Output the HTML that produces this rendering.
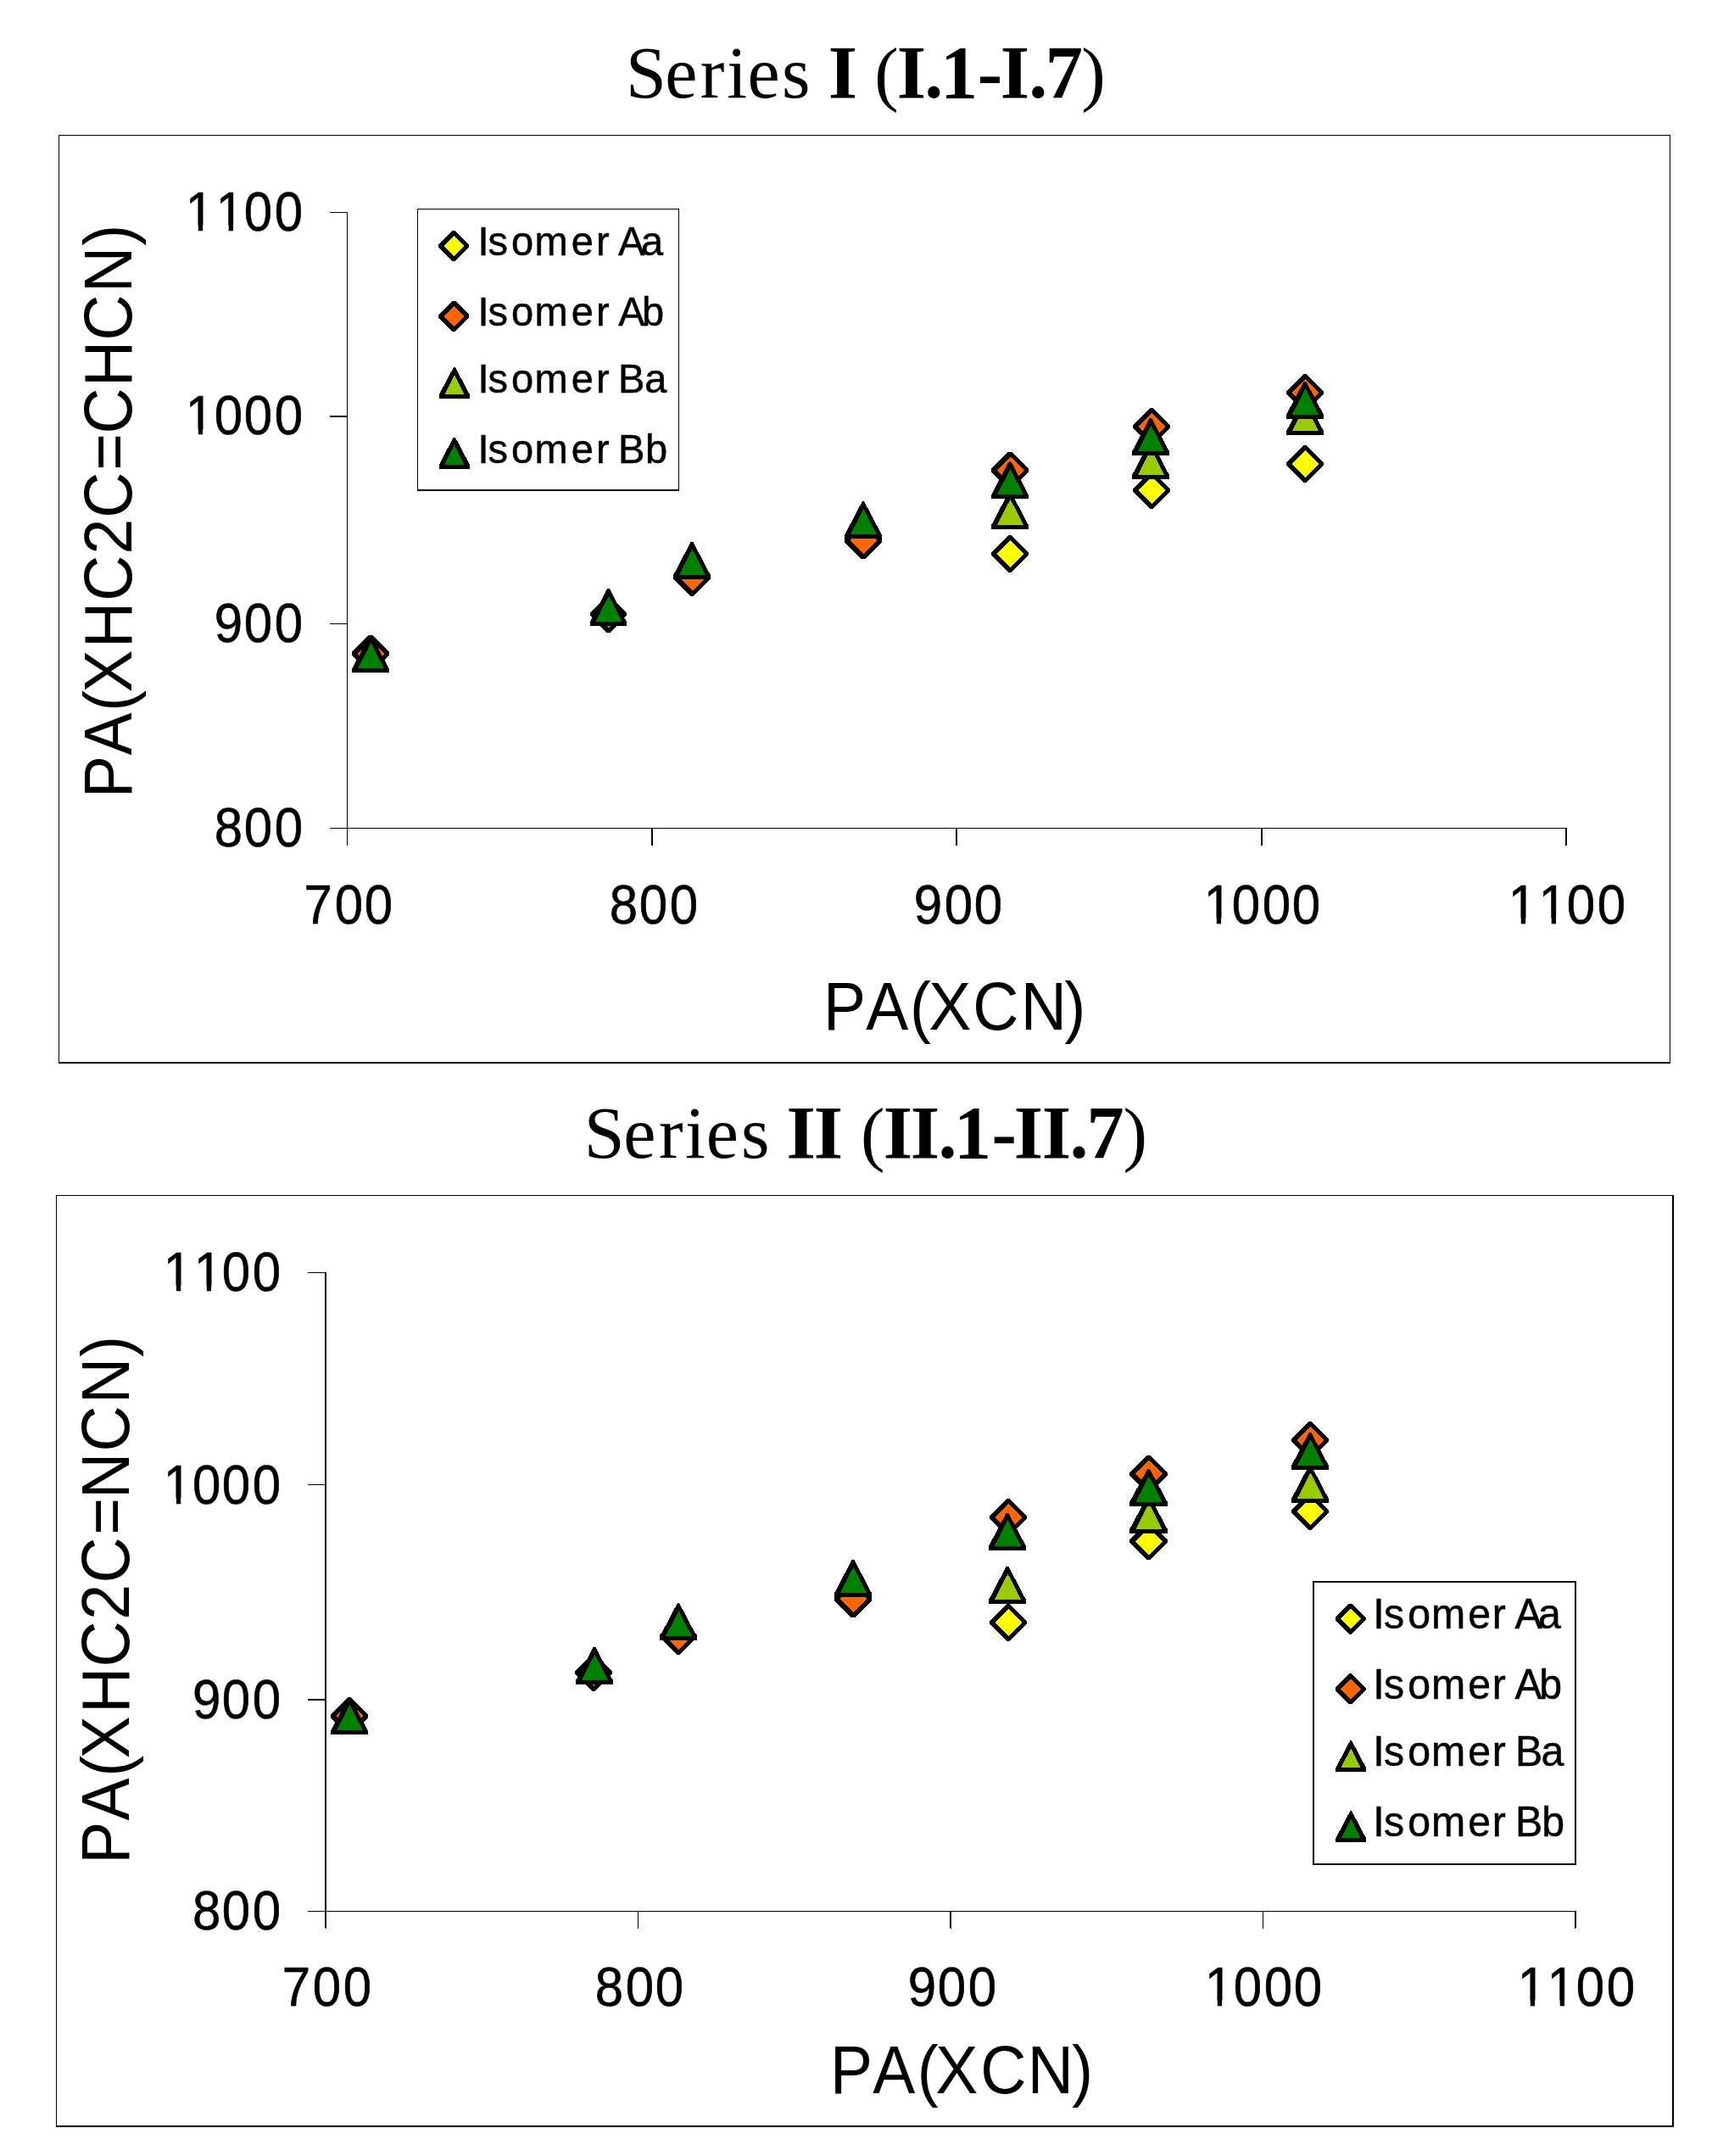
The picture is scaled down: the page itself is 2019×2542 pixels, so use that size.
<!DOCTYPE html>
<html lang="en"><head><meta charset="utf-8"><title>Series I and Series II proton affinities</title>
<style>
html,body{margin:0;padding:0;background:#fff;}
body{width:2019px;height:2542px;overflow:hidden;}
svg{display:block;}
.bx{fill:#000;shape-rendering:crispEdges;}
text{fill:#000;white-space:pre;}
.sa{font-family:"Liberation Sans",Arial,Helvetica,sans-serif;}
.se{font-family:"Liberation Serif","Times New Roman",Times,serif;}
.b{font-weight:bold;}
.mk{shape-rendering:crispEdges;}
</style></head><body>
<svg width="2019" height="2542" viewBox="0 0 2019 2542">
<rect x="0" y="0" width="2019" height="2542" fill="#fff"/>
<text class="se" font-size="88.3" transform="translate(0,115.0)" y="0"><tspan x="738.03 784.33 825.85 857.27 881.43 922.01" font-size="86.0">Series </tspan><tspan x="976.72" font-size="88.3" class="b">I </tspan><tspan x="1031.16" font-size="85.5">(</tspan><tspan x="1057.82 1090.36 1109.07 1152.65 1179.72 1213.16 1232.83" font-size="88.3" class="b">I.1-I.7</tspan><tspan x="1275.31" font-size="85.5">)</tspan></text>
<text class="se" font-size="88.3" transform="translate(0,1365.0)" y="0"><tspan x="688.63 735.33 776.90 808.02 832.83 874.06" font-size="86.0">Series </tspan><tspan x="927.57 959.72" font-size="88.3" class="b">II </tspan><tspan x="1015.01" font-size="85.5">(</tspan><tspan x="1041.67 1073.77 1106.51 1124.92 1169.60 1195.72 1228.77 1261.46 1281.38" font-size="88.3" class="b">II.1-II.7</tspan><tspan x="1324.51" font-size="85.5">)</tspan></text>
<rect class="bx" x="69" y="159" width="1901" height="1"/>
<rect class="bx" x="69" y="159" width="1" height="1095"/>
<rect class="bx" x="1969" y="159" width="1" height="1095"/>
<rect class="bx" x="69" y="1252" width="1901" height="2"/>
<rect class="bx" x="409" y="250" width="1" height="747"/>
<rect class="bx" x="389" y="976" width="1459" height="1"/>
<rect class="bx" x="389" y="250" width="21" height="1"/>
<rect class="bx" x="389" y="490" width="21" height="2"/>
<rect class="bx" x="389" y="735" width="21" height="1"/>
<rect class="bx" x="768" y="976" width="2" height="21"/>
<rect class="bx" x="1127" y="976" width="2" height="21"/>
<rect class="bx" x="1487" y="976" width="2" height="21"/>
<rect class="bx" x="1846" y="976" width="2" height="21"/>
<text class="sa" font-size="64.4" transform="translate(0,272.25) scale(0.932,1)" x="234.66 273.18 308.81 347.27" y="0" stroke="#000" stroke-width="0.6">1100</text>
<rect fill="#fff" x="220.76" y="265.74" width="13.03" height="8.01"/>
<rect fill="#fff" x="239.10" y="265.74" width="12.55" height="8.01"/>
<rect fill="#fff" x="256.66" y="265.74" width="13.03" height="8.01"/>
<rect fill="#fff" x="275.00" y="265.74" width="12.55" height="8.01"/>
<text class="sa" font-size="64.4" transform="translate(0,512.4) scale(0.932,1)" x="234.66 271.25 308.81 347.27" y="0" stroke="#000" stroke-width="0.6">1000</text>
<rect fill="#fff" x="220.76" y="505.89" width="13.03" height="8.01"/>
<rect fill="#fff" x="239.10" y="505.89" width="12.55" height="8.01"/>
<text class="sa" font-size="64.4" transform="translate(0,757.3) scale(0.932,1)" x="271.27 308.81 347.27" y="0" stroke="#000" stroke-width="0.6">900</text>
<text class="sa" font-size="64.4" transform="translate(0,998.1) scale(0.932,1)" x="271.25 308.81 347.27" y="0" stroke="#000" stroke-width="0.6">800</text>
<text class="sa" font-size="64.4" transform="translate(0,1089.1) scale(0.932,1)" x="384.80 423.51 461.01" y="0" stroke="#000" stroke-width="0.6">700</text>
<text class="sa" font-size="64.4" transform="translate(0,1089.1) scale(0.932,1)" x="771.25 808.70 847.27" y="0" stroke="#000" stroke-width="0.6">800</text>
<text class="sa" font-size="64.4" transform="translate(0,1089.1) scale(0.932,1)" x="1156.41 1194.97 1232.57" y="0" stroke="#000" stroke-width="0.6">900</text>
<text class="sa" font-size="64.4" transform="translate(0,1089.1) scale(0.932,1)" x="1523.29 1558.81 1597.33 1634.99" y="0" stroke="#000" stroke-width="0.6">1000</text>
<rect fill="#fff" x="1421.76" y="1082.59" width="13.03" height="8.01"/>
<rect fill="#fff" x="1440.10" y="1082.59" width="12.55" height="8.01"/>
<text class="sa" font-size="64.4" transform="translate(0,1089.1) scale(0.932,1)" x="1908.48 1947.00 1982.63 2021.25" y="0" stroke="#000" stroke-width="0.6">1100</text>
<rect fill="#fff" x="1780.76" y="1082.59" width="13.03" height="8.01"/>
<rect fill="#fff" x="1799.10" y="1082.59" width="12.55" height="8.01"/>
<rect fill="#fff" x="1816.66" y="1082.59" width="13.03" height="8.01"/>
<rect fill="#fff" x="1835.00" y="1082.59" width="12.55" height="8.01"/>
<text class="sa" font-size="79.0" transform="translate(0,1213.8) scale(0.95,1)" x="1022.08 1074.97 1129.47 1153.02 1207.71 1267.03 1321.22" y="0">PA(XCN)</text>
<text class="sa" font-size="79.0" transform="translate(155.0,0) rotate(-90) scale(0.95,1)" x="-990.66 -937.35 -883.00 -859.56 -804.28 -745.97 -687.97 -642.82 -583.94 -538.50 -480.07 -422.55 -363.23 -305.09" y="0">PA(XHC2C=CHCN)</text>
<polygon class="mk" fill="#000" points="1189.25,630.80 1192.75,630.80 1213.00,651.05 1213.00,654.55 1192.75,674.80 1189.25,674.80 1169.00,654.55 1169.00,651.05"/>
<polygon class="mk" fill="#ffff00" points="1191.50,636.80 1207.50,652.80 1191.50,668.80 1175.50,652.80"/>
<polygon class="mk" fill="#000" points="1356.25,556.10 1359.75,556.10 1380.00,576.35 1380.00,579.85 1359.75,600.10 1356.25,600.10 1336.00,579.85 1336.00,576.35"/>
<polygon class="mk" fill="#ffff00" points="1358.50,562.10 1374.50,578.10 1358.50,594.10 1342.50,578.10"/>
<polygon class="mk" fill="#000" points="1537.25,524.90 1540.75,524.90 1561.00,545.15 1561.00,548.65 1540.75,568.90 1537.25,568.90 1517.00,548.65 1517.00,545.15"/>
<polygon class="mk" fill="#ffff00" points="1539.50,530.90 1555.50,546.90 1539.50,562.90 1523.50,546.90"/>
<polygon class="mk" fill="#000" points="435.25,748.70 438.75,748.70 459.00,768.95 459.00,772.45 438.75,792.70 435.25,792.70 415.00,772.45 415.00,768.95"/>
<polygon class="mk" fill="#ff6600" points="437.50,754.70 453.50,770.70 437.50,786.70 421.50,770.70"/>
<polygon class="mk" fill="#000" points="715.75,702.20 719.25,702.20 739.00,722.45 739.00,725.95 719.25,746.20 715.75,746.20 696.00,725.95 696.00,722.45"/>
<polygon class="mk" fill="#ff6600" points="718.00,708.20 734.00,724.20 718.00,740.20 702.00,724.20"/>
<polygon class="mk" fill="#000" points="814.25,658.50 817.75,658.50 838.00,678.75 838.00,682.25 817.75,702.50 814.25,702.50 794.00,682.25 794.00,678.75"/>
<polygon class="mk" fill="#ff6600" points="816.50,664.50 832.50,680.50 816.50,696.50 800.50,680.50"/>
<polygon class="mk" fill="#000" points="1016.25,615.30 1019.75,615.30 1040.00,635.55 1040.00,639.05 1019.75,659.30 1016.25,659.30 996.00,639.05 996.00,635.55"/>
<polygon class="mk" fill="#ff6600" points="1018.50,621.30 1034.50,637.30 1018.50,653.30 1002.50,637.30"/>
<polygon class="mk" fill="#000" points="1189.25,532.50 1192.75,532.50 1213.00,552.75 1213.00,556.25 1192.75,576.50 1189.25,576.50 1169.00,556.25 1169.00,552.75"/>
<polygon class="mk" fill="#ff6600" points="1191.50,538.50 1207.50,554.50 1191.50,570.50 1175.50,554.50"/>
<polygon class="mk" fill="#000" points="1356.25,480.80 1359.75,480.80 1380.00,501.05 1380.00,504.55 1359.75,524.80 1356.25,524.80 1336.00,504.55 1336.00,501.05"/>
<polygon class="mk" fill="#ff6600" points="1358.50,486.80 1374.50,502.80 1358.50,518.80 1342.50,502.80"/>
<polygon class="mk" fill="#000" points="1537.25,441.00 1540.75,441.00 1561.00,461.25 1561.00,464.75 1540.75,485.00 1537.25,485.00 1517.00,464.75 1517.00,461.25"/>
<polygon class="mk" fill="#ff6600" points="1539.50,447.00 1555.50,463.00 1539.50,479.00 1523.50,463.00"/>
<polygon class="mk" fill="#000" points="1189.70,579.90 1192.30,579.90 1213.00,619.40 1213.00,623.90 1169.00,623.90 1169.00,619.40"/>
<polygon class="mk" fill="#99cc00" points="1191.50,588.70 1207.10,618.90 1175.90,618.90"/>
<polygon class="mk" fill="#000" points="1355.70,520.80 1358.30,520.80 1379.00,560.30 1379.00,564.80 1335.00,564.80 1335.00,560.30"/>
<polygon class="mk" fill="#99cc00" points="1357.50,529.60 1373.10,559.80 1341.90,559.80"/>
<polygon class="mk" fill="#000" points="1537.70,468.80 1540.30,468.80 1561.00,508.30 1561.00,512.80 1517.00,512.80 1517.00,508.30"/>
<polygon class="mk" fill="#99cc00" points="1539.50,477.60 1555.10,507.80 1523.90,507.80"/>
<polygon class="mk" fill="#000" points="435.70,749.40 438.30,749.40 459.00,788.90 459.00,793.40 415.00,793.40 415.00,788.90"/>
<polygon class="mk" fill="#008000" points="437.50,758.20 453.10,788.40 421.90,788.40"/>
<polygon class="mk" fill="#000" points="716.20,693.90 718.80,693.90 739.00,733.40 739.00,737.90 696.00,737.90 696.00,733.40"/>
<polygon class="mk" fill="#008000" points="718.00,702.70 733.60,732.90 702.40,732.90"/>
<polygon class="mk" fill="#000" points="814.70,638.80 817.30,638.80 838.00,678.30 838.00,682.80 794.00,682.80 794.00,678.30"/>
<polygon class="mk" fill="#008000" points="816.50,647.60 832.10,677.80 800.90,677.80"/>
<polygon class="mk" fill="#000" points="1016.70,591.40 1019.30,591.40 1040.00,630.90 1040.00,635.40 996.00,635.40 996.00,630.90"/>
<polygon class="mk" fill="#008000" points="1018.50,600.20 1034.10,630.40 1002.90,630.40"/>
<polygon class="mk" fill="#000" points="1189.70,544.20 1192.30,544.20 1213.00,583.70 1213.00,588.20 1169.00,588.20 1169.00,583.70"/>
<polygon class="mk" fill="#008000" points="1191.50,553.00 1207.10,583.20 1175.90,583.20"/>
<polygon class="mk" fill="#000" points="1355.70,492.90 1358.30,492.90 1379.00,532.40 1379.00,536.90 1335.00,536.90 1335.00,532.40"/>
<polygon class="mk" fill="#008000" points="1357.50,501.70 1373.10,531.90 1341.90,531.90"/>
<polygon class="mk" fill="#000" points="1537.70,449.60 1540.30,449.60 1561.00,489.10 1561.00,493.60 1517.00,493.60 1517.00,489.10"/>
<polygon class="mk" fill="#008000" points="1539.50,458.40 1555.10,488.60 1523.90,488.60"/>
<rect class="bx" x="492" y="246" width="309" height="1"/>
<rect class="bx" x="492" y="246" width="1" height="333"/>
<rect class="bx" x="800" y="246" width="1" height="333"/>
<rect class="bx" x="492" y="577" width="309" height="2"/>
<polygon class="mk" fill="#000" points="533.45,272.00 536.95,272.00 553.20,288.25 553.20,291.75 536.95,308.00 533.45,308.00 517.20,291.75 517.20,288.25"/>
<polygon class="mk" fill="#ffff00" points="535.70,278.00 547.70,290.00 535.70,302.00 523.70,290.00"/>
<text class="sa" font-size="49.0" transform="translate(0,300.6) scale(0.96,1)" x="587.10 599.57 628.15 656.71 701.94 732.24 748.55 759.39 787.57" y="0" stroke="#000" stroke-width="0.5">Isomer Aa</text>
<polygon class="mk" fill="#000" points="533.45,354.90 536.95,354.90 553.20,371.15 553.20,374.65 536.95,390.90 533.45,390.90 517.20,374.65 517.20,371.15"/>
<polygon class="mk" fill="#ff6600" points="535.70,360.90 547.70,372.90 535.70,384.90 523.70,372.90"/>
<text class="sa" font-size="49.0" transform="translate(0,384.0) scale(0.96,1)" x="587.10 599.57 628.15 656.71 701.94 732.24 748.55 759.54 788.64" y="0" stroke="#000" stroke-width="0.5">Isomer Ab</text>
<polygon class="mk" fill="#000" points="534.90,433.00 536.90,433.00 553.90,465.20 553.90,470.00 517.90,470.00 517.90,465.20"/>
<polygon class="mk" fill="#99cc00" points="535.90,441.90 547.50,465.00 524.30,465.00"/>
<text class="sa" font-size="49.0" transform="translate(0,462.9) scale(0.96,1)" x="587.10 599.57 628.15 656.71 701.94 732.24 748.55 759.40 791.84" y="0" stroke="#000" stroke-width="0.5">Isomer Ba</text>
<polygon class="mk" fill="#000" points="534.90,515.50 536.90,515.50 553.90,547.70 553.90,552.50 517.90,552.50 517.90,547.70"/>
<polygon class="mk" fill="#008000" points="535.90,524.40 547.50,547.50 524.30,547.50"/>
<text class="sa" font-size="49.0" transform="translate(0,546.0) scale(0.96,1)" x="587.10 599.57 628.15 656.71 701.94 732.24 748.55 759.40 792.70" y="0" stroke="#000" stroke-width="0.5">Isomer Bb</text>
<rect class="bx" x="66" y="1409" width="1908" height="1"/>
<rect class="bx" x="66" y="1409" width="1" height="1099"/>
<rect class="bx" x="1972" y="1409" width="2" height="1099"/>
<rect class="bx" x="66" y="2506" width="1908" height="2"/>
<rect class="bx" x="383" y="1500" width="2" height="773"/>
<rect class="bx" x="384" y="2273" width="1" height="1"/>
<rect class="bx" x="363" y="2253" width="1496" height="1"/>
<rect class="bx" x="363" y="1500" width="22" height="1"/>
<rect class="bx" x="363" y="1750" width="22" height="1"/>
<rect class="bx" x="363" y="2003" width="22" height="2"/>
<rect class="bx" x="752" y="2253" width="1" height="21"/>
<rect class="bx" x="1120" y="2253" width="2" height="20"/>
<rect class="bx" x="1121" y="2273" width="1" height="1"/>
<rect class="bx" x="1489" y="2253" width="1" height="21"/>
<rect class="bx" x="1857" y="2253" width="2" height="20"/>
<rect class="bx" x="1857" y="2273" width="1" height="1"/>
<text class="sa" font-size="64.4" transform="translate(0,1522.25) scale(0.932,1)" x="206.87 245.39 280.86 319.48" y="0" stroke="#000" stroke-width="0.6">1100</text>
<rect fill="#fff" x="194.86" y="1515.74" width="13.03" height="8.01"/>
<rect fill="#fff" x="213.20" y="1515.74" width="12.55" height="8.01"/>
<rect fill="#fff" x="230.76" y="1515.74" width="13.03" height="8.01"/>
<rect fill="#fff" x="249.10" y="1515.74" width="12.55" height="8.01"/>
<text class="sa" font-size="64.4" transform="translate(0,1772.7) scale(0.932,1)" x="206.87 243.47 280.86 319.48" y="0" stroke="#000" stroke-width="0.6">1000</text>
<rect fill="#fff" x="194.86" y="1766.19" width="13.03" height="8.01"/>
<rect fill="#fff" x="213.20" y="1766.19" width="12.55" height="8.01"/>
<text class="sa" font-size="64.4" transform="translate(0,2025.7) scale(0.932,1)" x="243.48 280.86 319.48" y="0" stroke="#000" stroke-width="0.6">900</text>
<text class="sa" font-size="64.4" transform="translate(0,2275.1) scale(0.932,1)" x="243.47 280.86 319.48" y="0" stroke="#000" stroke-width="0.6">800</text>
<text class="sa" font-size="64.4" transform="translate(0,2365.2) scale(0.932,1)" x="357.01 395.61 434.18" y="0" stroke="#000" stroke-width="0.6">700</text>
<text class="sa" font-size="64.4" transform="translate(0,2365.2) scale(0.932,1)" x="752.96 791.53 829.14" y="0" stroke="#000" stroke-width="0.6">800</text>
<text class="sa" font-size="64.4" transform="translate(0,2365.2) scale(0.932,1)" x="1148.79 1186.38 1224.96" y="0" stroke="#000" stroke-width="0.6">900</text>
<text class="sa" font-size="64.4" transform="translate(0,2365.2) scale(0.932,1)" x="1524.36 1560.85 1599.47 1637.08" y="0" stroke="#000" stroke-width="0.6">1000</text>
<rect fill="#fff" x="1422.76" y="2358.69" width="13.03" height="8.01"/>
<rect fill="#fff" x="1441.10" y="2358.69" width="12.55" height="8.01"/>
<text class="sa" font-size="64.4" transform="translate(0,2365.2) scale(0.932,1)" x="1920.28 1957.73 1994.32 2033.06" y="0" stroke="#000" stroke-width="0.6">1100</text>
<rect fill="#fff" x="1791.76" y="2358.69" width="13.03" height="8.01"/>
<rect fill="#fff" x="1810.10" y="2358.69" width="12.55" height="8.01"/>
<rect fill="#fff" x="1826.66" y="2358.69" width="13.03" height="8.01"/>
<rect fill="#fff" x="1845.00" y="2358.69" width="12.55" height="8.01"/>
<text class="sa" font-size="79.0" transform="translate(0,2468.2) scale(0.95,1)" x="1030.50 1083.39 1138.79 1161.44 1217.13 1275.46 1330.59" y="0">PA(XCN)</text>
<text class="sa" font-size="79.0" transform="translate(152.1,0) rotate(-90) scale(0.95,1)" x="-2313.56 -2259.40 -2205.06 -2182.61 -2126.44 -2069.03 -2010.28 -1964.82 -1905.05 -1860.02 -1801.50 -1742.12 -1684.15" y="0">PA(XHC2C=NCN)</text>
<polygon class="mk" fill="#000" points="1187.25,1890.90 1190.75,1890.90 1211.00,1911.15 1211.00,1914.65 1190.75,1934.90 1187.25,1934.90 1167.00,1914.65 1167.00,1911.15"/>
<polygon class="mk" fill="#ffff00" points="1189.50,1896.90 1205.50,1912.90 1189.50,1928.90 1173.50,1912.90"/>
<polygon class="mk" fill="#000" points="1352.75,1795.10 1356.25,1795.10 1377.00,1815.35 1377.00,1818.85 1356.25,1839.10 1352.75,1839.10 1332.00,1818.85 1332.00,1815.35"/>
<polygon class="mk" fill="#ffff00" points="1355.00,1801.10 1371.00,1817.10 1355.00,1833.10 1339.00,1817.10"/>
<polygon class="mk" fill="#000" points="1543.25,1760.10 1546.75,1760.10 1567.00,1780.35 1567.00,1783.85 1546.75,1804.10 1543.25,1804.10 1523.00,1783.85 1523.00,1780.35"/>
<polygon class="mk" fill="#ffff00" points="1545.50,1766.10 1561.50,1782.10 1545.50,1798.10 1529.50,1782.10"/>
<polygon class="mk" fill="#000" points="410.25,2001.40 413.75,2001.40 434.00,2021.65 434.00,2025.15 413.75,2045.40 410.25,2045.40 390.00,2025.15 390.00,2021.65"/>
<polygon class="mk" fill="#ff6600" points="412.50,2007.40 428.50,2023.40 412.50,2039.40 396.50,2023.40"/>
<polygon class="mk" fill="#000" points="698.25,1950.20 701.75,1950.20 722.00,1970.45 722.00,1973.95 701.75,1994.20 698.25,1994.20 678.00,1973.95 678.00,1970.45"/>
<polygon class="mk" fill="#ff6600" points="700.50,1956.20 716.50,1972.20 700.50,1988.20 684.50,1972.20"/>
<polygon class="mk" fill="#000" points="798.25,1907.20 801.75,1907.20 822.00,1927.45 822.00,1930.95 801.75,1951.20 798.25,1951.20 778.00,1930.95 778.00,1927.45"/>
<polygon class="mk" fill="#ff6600" points="800.50,1913.20 816.50,1929.20 800.50,1945.20 784.50,1929.20"/>
<polygon class="mk" fill="#000" points="1004.25,1863.30 1007.75,1863.30 1028.00,1883.55 1028.00,1887.05 1007.75,1907.30 1004.25,1907.30 984.00,1887.05 984.00,1883.55"/>
<polygon class="mk" fill="#ff6600" points="1006.50,1869.30 1022.50,1885.30 1006.50,1901.30 990.50,1885.30"/>
<polygon class="mk" fill="#000" points="1187.25,1766.90 1190.75,1766.90 1211.00,1787.15 1211.00,1790.65 1190.75,1810.90 1187.25,1810.90 1167.00,1790.65 1167.00,1787.15"/>
<polygon class="mk" fill="#ff6600" points="1189.50,1772.90 1205.50,1788.90 1189.50,1804.90 1173.50,1788.90"/>
<polygon class="mk" fill="#000" points="1352.75,1715.90 1356.25,1715.90 1377.00,1736.15 1377.00,1739.65 1356.25,1759.90 1352.75,1759.90 1332.00,1739.65 1332.00,1736.15"/>
<polygon class="mk" fill="#ff6600" points="1355.00,1721.90 1371.00,1737.90 1355.00,1753.90 1339.00,1737.90"/>
<polygon class="mk" fill="#000" points="1543.25,1675.90 1546.75,1675.90 1567.00,1696.15 1567.00,1699.65 1546.75,1719.90 1543.25,1719.90 1523.00,1699.65 1523.00,1696.15"/>
<polygon class="mk" fill="#ff6600" points="1545.50,1681.90 1561.50,1697.90 1545.50,1713.90 1529.50,1697.90"/>
<polygon class="mk" fill="#000" points="1186.70,1846.80 1189.30,1846.80 1210.00,1886.30 1210.00,1890.80 1166.00,1890.80 1166.00,1886.30"/>
<polygon class="mk" fill="#99cc00" points="1188.50,1855.60 1204.10,1885.80 1172.90,1885.80"/>
<polygon class="mk" fill="#000" points="1353.20,1763.80 1355.80,1763.80 1377.00,1803.30 1377.00,1807.80 1332.00,1807.80 1332.00,1803.30"/>
<polygon class="mk" fill="#99cc00" points="1355.00,1772.60 1370.60,1802.80 1339.40,1802.80"/>
<polygon class="mk" fill="#000" points="1543.70,1727.70 1546.30,1727.70 1567.00,1767.20 1567.00,1771.70 1523.00,1771.70 1523.00,1767.20"/>
<polygon class="mk" fill="#99cc00" points="1545.50,1736.50 1561.10,1766.70 1529.90,1766.70"/>
<polygon class="mk" fill="#000" points="410.70,2001.40 413.30,2001.40 434.00,2040.90 434.00,2045.40 390.00,2045.40 390.00,2040.90"/>
<polygon class="mk" fill="#008000" points="412.50,2010.20 428.10,2040.40 396.90,2040.40"/>
<polygon class="mk" fill="#000" points="699.70,1941.90 702.30,1941.90 723.00,1981.40 723.00,1985.90 679.00,1985.90 679.00,1981.40"/>
<polygon class="mk" fill="#008000" points="701.50,1950.70 717.10,1980.90 685.90,1980.90"/>
<polygon class="mk" fill="#000" points="798.70,1890.40 801.30,1890.40 822.00,1929.90 822.00,1934.40 778.00,1934.40 778.00,1929.90"/>
<polygon class="mk" fill="#008000" points="800.50,1899.20 816.10,1929.40 784.90,1929.40"/>
<polygon class="mk" fill="#000" points="1004.70,1838.90 1007.30,1838.90 1028.00,1878.40 1028.00,1882.90 984.00,1882.90 984.00,1878.40"/>
<polygon class="mk" fill="#008000" points="1006.50,1847.70 1022.10,1877.90 990.90,1877.90"/>
<polygon class="mk" fill="#000" points="1186.70,1783.60 1189.30,1783.60 1210.00,1823.10 1210.00,1827.60 1166.00,1827.60 1166.00,1823.10"/>
<polygon class="mk" fill="#008000" points="1188.50,1792.40 1204.10,1822.60 1172.90,1822.60"/>
<polygon class="mk" fill="#000" points="1353.20,1731.80 1355.80,1731.80 1377.00,1771.30 1377.00,1775.80 1332.00,1775.80 1332.00,1771.30"/>
<polygon class="mk" fill="#008000" points="1355.00,1740.60 1370.60,1770.80 1339.40,1770.80"/>
<polygon class="mk" fill="#000" points="1543.70,1688.70 1546.30,1688.70 1567.00,1728.20 1567.00,1732.70 1523.00,1732.70 1523.00,1728.20"/>
<polygon class="mk" fill="#008000" points="1545.50,1697.50 1561.10,1727.70 1529.90,1727.70"/>
<rect class="bx" x="1548" y="1864" width="311" height="2"/>
<rect class="bx" x="1548" y="1864" width="2" height="335"/>
<rect class="bx" x="1857" y="1864" width="2" height="335"/>
<rect class="bx" x="1548" y="2197" width="311" height="2"/>
<polygon class="mk" fill="#000" points="1590.75,1890.50 1594.25,1890.50 1610.50,1906.75 1610.50,1910.25 1594.25,1926.50 1590.75,1926.50 1574.50,1910.25 1574.50,1906.75"/>
<polygon class="mk" fill="#ffff00" points="1593.00,1896.50 1605.00,1908.50 1593.00,1920.50 1581.00,1908.50"/>
<text class="sa" font-size="50.0" transform="translate(0,1919.7) scale(0.965,1)" x="1678.03 1691.23 1720.34 1749.16 1794.12 1823.59 1840.24 1851.25 1879.80" y="0" stroke="#000" stroke-width="0.5">Isomer Aa</text>
<polygon class="mk" fill="#000" points="1590.75,1973.30 1594.25,1973.30 1610.50,1989.55 1610.50,1993.05 1594.25,2009.30 1590.75,2009.30 1574.50,1993.05 1574.50,1989.55"/>
<polygon class="mk" fill="#ff6600" points="1593.00,1979.30 1605.00,1991.30 1593.00,2003.30 1581.00,1991.30"/>
<text class="sa" font-size="50.0" transform="translate(0,2002.9) scale(0.965,1)" x="1678.03 1691.23 1720.34 1749.16 1794.12 1823.59 1840.24 1851.20 1881.13" y="0" stroke="#000" stroke-width="0.5">Isomer Ab</text>
<polygon class="mk" fill="#000" points="1592.20,2052.30 1594.20,2052.30 1611.20,2084.50 1611.20,2089.30 1575.20,2089.30 1575.20,2084.50"/>
<polygon class="mk" fill="#99cc00" points="1593.20,2061.20 1604.80,2084.30 1581.60,2084.30"/>
<text class="sa" font-size="50.0" transform="translate(0,2082.0) scale(0.965,1)" x="1678.03 1691.23 1720.34 1749.16 1794.12 1823.59 1840.24 1851.71 1883.32" y="0" stroke="#000" stroke-width="0.5">Isomer Ba</text>
<polygon class="mk" fill="#000" points="1592.20,2135.40 1594.20,2135.40 1611.20,2167.60 1611.20,2172.40 1575.20,2172.40 1575.20,2167.60"/>
<polygon class="mk" fill="#008000" points="1593.20,2144.30 1604.80,2167.40 1581.60,2167.40"/>
<text class="sa" font-size="50.0" transform="translate(0,2164.9) scale(0.965,1)" x="1678.03 1691.23 1720.34 1749.16 1794.12 1823.59 1840.24 1851.71 1884.14" y="0" stroke="#000" stroke-width="0.5">Isomer Bb</text>
</svg></body></html>
